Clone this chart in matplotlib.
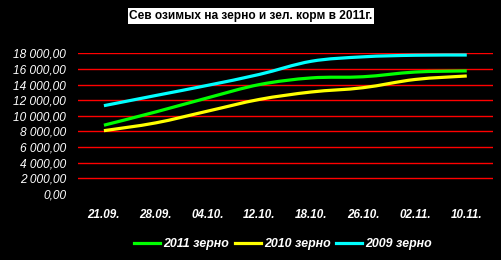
import matplotlib
matplotlib.use("Agg")
import matplotlib.pyplot as plt
from matplotlib.path import Path
from matplotlib.patches import PathPatch
from matplotlib.lines import Line2D
from matplotlib.ticker import FuncFormatter
import numpy as np

categories = ["21.09.", "28.09.", "04.10.", "12.10.", "18.10.", "26.10.", "02.11.", "10.11."]
grain_2011 = [8800, 10500, 12300, 14000, 14850, 15000, 15600, 15750]
grain_2010 = [8100, 9100, 10600, 12100, 13050, 13600, 14650, 15100]
grain_2009 = [11300, 12600, 13900, 15300, 16980, 17550, 17750, 17780]
series_names = ["2011 зерно", "2010 зерно", "2009 зерно"]
y_ticks = [0, 2000, 4000, 6000, 8000, 10000, 12000, 14000, 16000, 18000]
title = "Сев озимых на зерно и зел. корм в 2011г."

colors = ["#00FF00", "#FFFF00", "#00FFFF"]
FONT = "Liberation Sans"

fig = plt.figure(figsize=(5.01, 2.60), dpi=100, facecolor="black")
ax = fig.add_axes([78 / 501, (260 - 194) / 260, (492.7 - 78) / 501, (194 - 53.3) / 260])
ax.set_facecolor("black")


def smooth_path(xs, ys):
    # Catmull-Rom style Bezier smoothing (like Excel "smoothed line")
    pts = np.column_stack([xs, ys]).astype(float)
    n = len(pts)
    verts = [pts[0]]
    codes = [Path.MOVETO]
    for i in range(n - 1):
        p0 = pts[i - 1] if i > 0 else pts[i]
        p1 = pts[i]
        p2 = pts[i + 1]
        p3 = pts[i + 2] if i + 2 < n else pts[i + 1]
        c1 = p1 + (p2 - p0) / 6.0
        c2 = p2 - (p3 - p1) / 6.0
        verts += [c1, c2, p2]
        codes += [Path.CURVE4] * 3
    return Path(verts, codes)


x = np.arange(len(categories))
handles = []
for vals, c, name in zip([grain_2011, grain_2010, grain_2009], colors, series_names):
    patch = PathPatch(smooth_path(x, vals), facecolor="none", edgecolor=c,
                      lw=2.3, transform=ax.transData, zorder=3, capstyle="butt")
    ax.add_patch(patch)
    handles.append(Line2D([], [], color=c, lw=2.3, label=name))

ax.set_xlim(-0.5, len(categories) - 0.5)
ax.set_ylim(0, 18000)
ax.set_yticks(y_ticks)
ax.set_xticks(x)
ax.set_xticklabels(categories)

for yv in y_ticks[1:]:
    ax.axhline(yv, color="#FF0000", lw=1.0, zorder=1)

ax.yaxis.set_major_formatter(FuncFormatter(lambda v, p: f"{v:,.2f}".replace(",", " ").replace(".", ",")))
for s in ax.spines.values():
    s.set_visible(False)
ax.tick_params(axis="both", length=0, colors="white")
ax.tick_params(axis="y", pad=8.5)
ax.tick_params(axis="x", pad=10.5)
for lab in ax.get_yticklabels():
    lab.set_fontfamily(FONT)
    lab.set_fontstyle("italic")
    lab.set_fontsize(8.6)
    lab.set_color("white")
for lab in ax.get_xticklabels():
    lab.set_fontfamily(FONT)
    lab.set_fontstyle("italic")
    lab.set_fontweight("bold")
    lab.set_fontsize(8.4)
    lab.set_color("white")

fig.text(251 / 501, 1 - 16 / 260, title, ha="center", va="center", color="black",
         fontsize=8.6, fontweight="bold", fontfamily=FONT,
         bbox=dict(facecolor="white", edgecolor="none", boxstyle="square,pad=0.15"))

leg = fig.legend(handles=handles, loc="center", bbox_to_anchor=(283 / 501, 1 - 244.5 / 260),
                 ncol=3, frameon=False, handlelength=2.1, handletextpad=0.25,
                 columnspacing=0.45, prop=dict(family=FONT, style="italic", weight="bold", size=8.9))
for t in leg.get_texts():
    t.set_color("white")

fig.savefig("out.png", dpi=100, facecolor="black")
